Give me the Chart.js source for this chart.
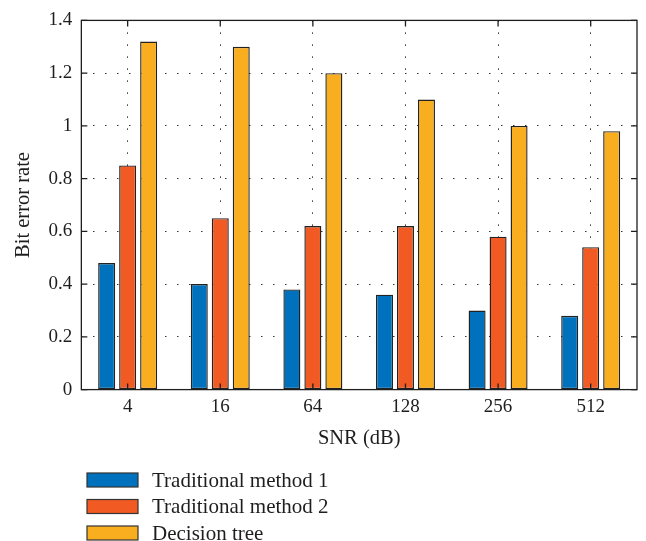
<!DOCTYPE html>
<html>
<head>
<meta charset="utf-8">
<script src="https://cdn.jsdelivr.net/npm/chart.js@4.4.0/dist/chart.umd.min.js"></script>
<style>
  html, body { margin: 0; padding: 0; background: #fff; }
  #wrap { width: 646px; height: 541px; position: relative; }
</style>
</head>
<body>
<div id="wrap"><canvas id="c" width="646" height="541"></canvas></div>
<script>
const categories = ['4', '16', '64', '128', '256', '512'];
const method1 = [0.48, 0.40, 0.38, 0.36, 0.30, 0.28];
const method2 = [0.85, 0.65, 0.62, 0.62, 0.58, 0.54];
const decisionTree = [1.32, 1.30, 1.20, 1.10, 1.00, 0.98];
const seriesNames = ['Traditional method 1', 'Traditional method 2', 'Decision tree'];
const seriesColors = ['#0072BD', '#F15A22', '#F9AE20'];
const yTitle = 'Bit error rate';
const xTitle = 'SNR (dB)';

const FONT = '"Liberation Serif", "Times New Roman", serif';
const INK = '#1e1e1e';

const framePlugin = {
  id: 'frame',
  afterDatasetsDraw(chart) {
    const { ctx, chartArea: a, scales } = chart;
    ctx.save();
    ctx.strokeStyle = INK;
    ctx.lineWidth = 1.3;
    ctx.strokeRect(a.left, a.top, a.right - a.left, a.bottom - a.top);
    const L = 6;
    ctx.beginPath();
    scales.x.ticks.forEach((t, i) => {
      const px = scales.x.getPixelForTick(i);
      ctx.moveTo(px, a.bottom); ctx.lineTo(px, a.bottom - L);
      ctx.moveTo(px, a.top); ctx.lineTo(px, a.top + L);
    });
    scales.y.ticks.forEach((t, i) => {
      const py = scales.y.getPixelForTick(i);
      ctx.moveTo(a.left, py); ctx.lineTo(a.left + L, py);
      ctx.moveTo(a.right, py); ctx.lineTo(a.right - L, py);
    });
    ctx.stroke();
    ctx.restore();
  }
};

const legendPlugin = {
  id: 'stackLegend',
  afterDraw(chart) {
    const { ctx } = chart;
    ctx.save();
    ctx.font = '21px ' + FONT;
    ctx.textBaseline = 'middle';
    ctx.textAlign = 'left';
    chart.data.datasets.forEach((ds, i) => {
      const y = 480 + i * 26.5;
      ctx.fillStyle = ds.backgroundColor;
      ctx.fillRect(87, y - 7, 51, 14);
      ctx.strokeStyle = '#333';
      ctx.lineWidth = 1.2;
      ctx.strokeRect(87, y - 7, 51, 14);
      ctx.fillStyle = INK;
      ctx.fillText(ds.label, 152, y + 1);
    });
    ctx.restore();
  }
};

const mk = (label, data, color) => ({
  label, data,
  backgroundColor: color,
  borderColor: '#222222',
  borderWidth: 1.4,
  borderSkipped: false,
  categoryPercentage: 0.68,
  barPercentage: 0.81
});

new Chart(document.getElementById('c'), {
  type: 'bar',
  data: {
    labels: categories,
    datasets: [
      mk(seriesNames[0], method1, seriesColors[0]),
      mk(seriesNames[1], method2, seriesColors[1]),
      mk(seriesNames[2], decisionTree, seriesColors[2])
    ]
  },
  options: {
    responsive: false,
    animation: false,
    layout: { padding: { top: 4, right: 9, bottom: 86, left: 7 } },
    plugins: {
      legend: { display: false },
      tooltip: { enabled: false }
    },
    scales: {
      x: {
        offset: true,
        grid: {
          offset: false,
          color: '#333',
          lineWidth: 1,
          drawTicks: false
        },
        border: { display: false, dash: [1.5, 10.5] },
        ticks: { color: INK, font: { family: FONT, size: 19 }, padding: 6 },
        title: { display: true, text: xTitle, color: INK, font: { family: FONT, size: 20.5 }, padding: { top: 2 } }
      },
      y: {
        min: 0, max: 1.4,
        ticks: {
          stepSize: 0.2,
          color: INK,
          font: { family: FONT, size: 19 },
          padding: 9,
          callback: v => {
            const r = Math.round(v * 10) / 10;
            return (r === 0 || r === 1) ? String(r) : r.toFixed(1);
          }
        },
        grid: { color: '#333', lineWidth: 1, drawTicks: false },
        border: { display: false, dash: [1.5, 10.5] },
        title: { display: true, text: yTitle, color: INK, font: { family: FONT, size: 20.5 }, padding: { bottom: 4 } }
      }
    }
  },
  plugins: [framePlugin, legendPlugin]
});
</script>
</body>
</html>
